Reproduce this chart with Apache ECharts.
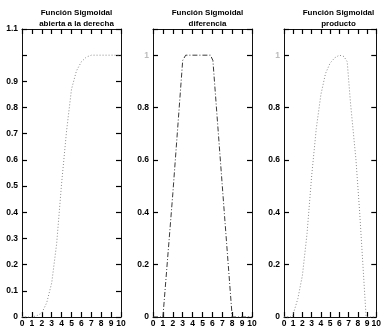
<!DOCTYPE html>
<html>
<head>
<meta charset="utf-8">
<script src="https://cdn.jsdelivr.net/npm/echarts@6/dist/echarts.min.js"></script>
<style>
  html, body { margin: 0; padding: 0; background: #fff; }
  #chart { width: 384px; height: 330px; }
</style>
</head>
<body>
<div id="chart"></div>
<script>
// panel titles
const titles = [
  'Función Sigmoidal\nabierta a la derecha',
  'Función Sigmoidal\ndiferencia',
  'Función Sigmoidal\nproducto'
];

// x tick values shared by all panels
const xTicks = [0, 1, 2, 3, 4, 5, 6, 7, 8, 9, 10];

// left: sigmoid open to the right
const abiertaX = [0, 1, 1.5, 2, 2.5, 3, 3.5, 4, 4.5, 5, 5.5, 6, 6.5, 7, 8, 9, 10];
const abiertaY = [0, 0, 0.005, 0.015, 0.055, 0.13, 0.28, 0.51, 0.71, 0.87, 0.94, 0.975, 0.993, 1, 1, 1, 1];

// middle: difference of sigmoids
const diferenciaX = [0, 1, 1.1, 2, 3, 3.3, 4, 5, 5.8, 6.05, 7, 8, 9, 10];
const diferenciaY = [0, 0, 0, 0.47, 0.98, 1, 1, 1, 1, 0.98, 0.5, 0, 0, 0];

// right: product of sigmoids
const productoX = [0, 0.9, 1.5, 2, 2.5, 3, 3.5, 4, 4.5, 5, 5.5, 6, 6.5, 6.85, 7.2, 7.8, 8.2, 8.55, 8.9, 9, 10];
const productoY = [0, 0, 0.07, 0.16, 0.32, 0.54, 0.72, 0.85, 0.93, 0.97, 0.99, 1, 0.995, 0.975, 0.82, 0.6, 0.4, 0.2, 0, 0, 0];

const panels = [
  { x: abiertaX, y: abiertaY, yStep: 0.1, color: '#8a8a8a', dash: [1, 2] },
  { x: diferenciaX, y: diferenciaY, yStep: 0.2, color: '#3a3a3a', dash: [5, 2, 1, 2] },
  { x: productoX, y: productoY, yStep: 0.2, color: '#8a8a8a', dash: [1, 2] }
];

const font = 'Liberation Sans, Arial, sans-serif';
const plotLefts = [22, 153, 284];
const plotW = 99;
const plotTop = 29;
const plotH = 288;

const chart = echarts.init(document.getElementById('chart'));

const grid = [], xAxis = [], yAxis = [], series = [], title = [];

panels.forEach((p, i) => {
  grid.push({ left: plotLefts[i], top: plotTop, width: plotW, height: plotH, containLabel: false });

  title.push({
    text: titles[i],
    left: plotLefts[i] + plotW / 2,
    top: 3,
    textAlign: 'center',
    textStyle: { fontFamily: font, fontSize: 8, fontWeight: 'bold', color: '#000', lineHeight: 10.5 }
  });

  const line = { show: true, onZero: false, lineStyle: { color: '#111', width: 1 } };
  // MATLAB-style ticks pointing into the box
  const tickIn = { show: true, inside: true, length: 5, lineStyle: { color: '#000', width: 1.2 } };

  // bottom x axis with labels
  xAxis.push({
    gridIndex: i, type: 'value', min: xTicks[0], max: xTicks[xTicks.length - 1], interval: 1,
    position: 'bottom', axisLine: line, axisTick: tickIn, splitLine: { show: false },
    axisLabel: { show: true, fontFamily: font, fontSize: 8.5, fontWeight: 'bold', color: '#000', margin: 2 }
  });
  // top x axis, box only
  xAxis.push({
    gridIndex: i, type: 'value', min: xTicks[0], max: xTicks[xTicks.length - 1], interval: 1,
    position: 'top', axisLine: line, axisTick: tickIn, splitLine: { show: false },
    axisLabel: { show: false }
  });

  const step = p.yStep;
  yAxis.push({
    gridIndex: i, type: 'value', min: 0, max: 1.1, interval: step,
    position: 'left', axisLine: line, axisTick: tickIn, splitLine: { show: false },
    axisLabel: {
      show: true, fontFamily: font, fontSize: 8.5, fontWeight: 'bold', margin: 4,
      color: (v) => (i > 0 && Math.abs(v - 1) < 1e-6) ? '#bbb' : '#000',
      formatter: (v) => {
        if (v === 0) return '0';
        if (i === 0 && Math.abs(v - 1) < 1e-6) return '';
        if (i > 0 && v > 1.05) return '';
        if (Math.abs(v - 1) < 1e-6) return '1';
        return String(Math.round(v * 10) / 10);
      }
    }
  });
  yAxis.push({
    gridIndex: i, type: 'value', min: 0, max: 1.1, interval: step,
    position: 'right', axisLine: line, axisTick: tickIn, splitLine: { show: false },
    axisLabel: { show: false }
  });

  series.push({
    type: 'line',
    xAxisIndex: i * 2,
    yAxisIndex: i * 2,
    data: p.x.map((xv, k) => [xv, p.y[k]]),
    showSymbol: false,
    lineStyle: { color: p.color, width: 1, type: p.dash },
    animation: false,
    z: 1
  });
});

chart.setOption({
  backgroundColor: '#fff',
  animation: false,
  title: title,
  grid: grid,
  xAxis: xAxis,
  yAxis: yAxis,
  series: series
});
</script>
</body>
</html>
